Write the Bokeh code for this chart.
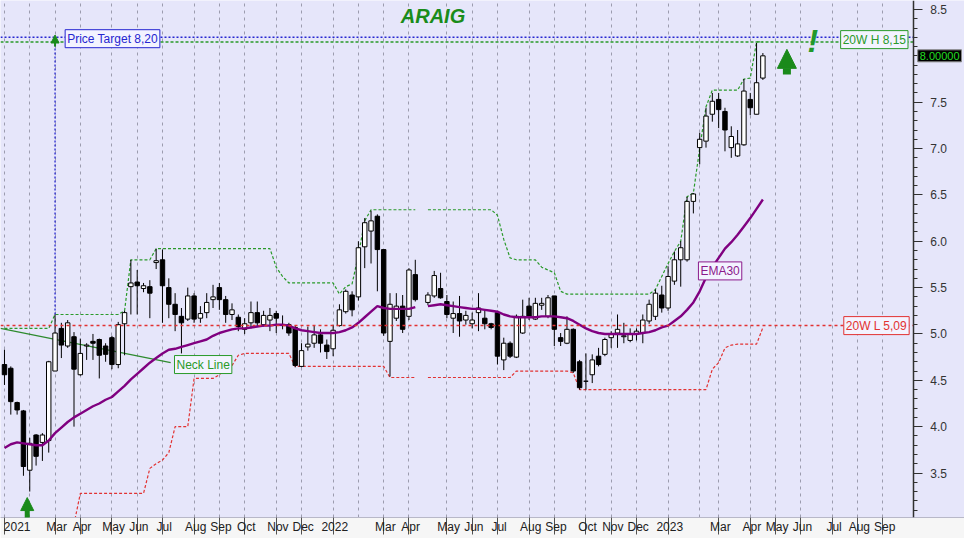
import math
from bokeh.plotting import figure
from bokeh.models import (Range1d, FixedTicker, PrintfTickFormatter, Label, Arrow,
                          NormalHead, ColumnDataSource)
from bokeh.embed import file_html
from bokeh.resources import INLINE

# ---------------- data (weekly bars, one slot per week; slot 66 has no bar) ----------------
opens = [4.67, 4.63, 4.26, 4.17, 3.53, 3.91, 3.83, 3.85, 4.60, 5.06,
         4.87, 4.97, 4.56, 4.87, 4.92, 4.94, 4.87, 4.96, 4.67, 5.11,
         5.51, 5.56, 5.49, 5.51, 5.77, 5.80, 5.50, 5.32, 5.19, 5.16,
         5.41, 5.17, 5.23, 5.37, 5.50, 5.37, 5.21, 5.18, 5.05, 5.12,
         5.23, 5.10, 5.15, 5.22, 5.09, 5.10, 5.07, 4.65, 4.86, 4.90,
         4.99, 4.88, 4.84, 5.09, 5.24, 5.42, 5.40, 5.94, 6.11, 6.27,
         5.91, 4.92, 5.17, 5.30, 5.19, 5.64, None, 5.34, 5.41, 5.49,
         5.35, 5.17, 5.22, 5.15, 5.11, 5.23, 5.17, 5.11, 5.23, 4.72,
         4.90, 4.75, 5.01, 5.30, 5.16, 5.31, 5.19, 5.41, 4.96, 4.90,
         5.05, 4.70, 4.49, 4.56, 4.76, 4.78, 4.96, 5.01, 4.97, 4.93,
         5.00, 5.01, 5.14, 5.19, 5.42, 5.28, 5.57, 5.80, 5.80, 6.43,
         7.01, 7.08, 7.37, 7.53, 7.40, 7.01, 6.92, 7.04, 7.53, 7.37,
         7.76]
highs = [4.83, 4.65, 4.27, 4.18, 3.88, 3.92, 3.93, 4.71, 5.21, 5.12,
         5.15, 5.02, 4.95, 4.90, 5.00, 4.95, 4.90, 4.98, 5.13, 5.25,
         5.80, 5.69, 5.55, 5.58, 5.92, 5.91, 5.60, 5.44, 5.28, 5.50,
         5.44, 5.30, 5.44, 5.53, 5.55, 5.41, 5.33, 5.21, 5.17, 5.35,
         5.35, 5.25, 5.28, 5.25, 5.20, 5.12, 5.09, 4.90, 5.08, 5.09,
         5.05, 4.94, 5.10, 5.32, 5.48, 5.46, 6.00, 6.25, 6.33, 6.29,
         5.91, 5.44, 5.44, 5.42, 5.71, 5.80, None, 5.45, 5.68, 5.66,
         5.42, 5.35, 5.41, 5.25, 5.23, 5.44, 5.26, 5.12, 5.25, 4.96,
         4.92, 5.21, 5.37, 5.39, 5.39, 5.39, 5.42, 5.41, 5.01, 5.19,
         5.06, 4.72, 4.79, 4.78, 4.85, 4.96, 5.03, 5.21, 5.12, 5.06,
         5.06, 5.21, 5.37, 5.48, 5.52, 5.73, 5.89, 6.00, 6.48, 6.52,
         7.17, 7.44, 7.60, 7.60, 7.44, 7.24, 7.20, 7.75, 7.60, 8.14,
         8.03]
lows = [4.45, 4.13, 4.13, 3.47, 3.30, 3.58, 3.63, 3.72, 4.60, 4.74,
        4.85, 4.00, 4.55, 4.72, 4.72, 4.52, 4.70, 4.62, 4.63, 4.77,
        5.21, 5.21, 5.45, 5.17, 5.70, 5.12, 5.17, 5.03, 4.79, 5.14,
        5.12, 5.12, 5.17, 5.28, 5.26, 5.12, 5.15, 5.03, 5.00, 5.06,
        5.08, 5.08, 5.03, 5.01, 5.05, 4.98, 4.64, 4.64, 4.82, 4.85,
        4.80, 4.73, 4.76, 5.08, 5.22, 5.19, 5.36, 5.71, 5.76, 5.46,
        4.98, 4.54, 5.14, 5.01, 5.15, 5.35, None, 5.31, 5.39, 5.38,
        5.17, 5.01, 4.97, 5.10, 5.06, 5.03, 5.05, 5.05, 4.67, 4.61,
        4.74, 4.74, 5.00, 5.15, 5.15, 5.26, 5.17, 4.87, 4.87, 4.89,
        4.58, 4.40, 4.40, 4.47, 4.65, 4.76, 4.85, 4.85, 4.90, 4.91,
        4.93, 4.90, 5.11, 5.15, 5.23, 5.25, 5.53, 5.51, 5.78, 6.30,
        6.83, 7.01, 7.29, 7.22, 6.97, 6.90, 6.91, 7.03, 7.36, 7.37,
        7.74]
closes = [4.56, 4.27, 4.18, 3.57, 3.82, 3.68, 3.91, 4.70, 5.01, 4.88,
          5.12, 4.62, 4.79, 4.88, 4.90, 4.77, 4.78, 4.67, 5.10, 5.23,
          5.55, 5.52, 5.52, 5.44, 5.79, 5.52, 5.32, 5.21, 5.12, 5.41,
          5.16, 5.22, 5.34, 5.40, 5.37, 5.21, 5.26, 5.08, 5.11, 5.23,
          5.12, 5.20, 5.20, 5.17, 5.10, 5.01, 4.66, 4.82, 4.89, 4.99,
          4.90, 4.81, 5.04, 5.26, 5.46, 5.26, 5.93, 6.20, 6.22, 5.91,
          5.01, 5.32, 5.30, 5.05, 5.69, 5.37, None, 5.42, 5.63, 5.39,
          5.21, 5.22, 5.14, 5.20, 5.15, 5.28, 5.11, 5.07, 4.76, 4.90,
          4.76, 5.19, 5.19, 5.19, 5.33, 5.33, 5.39, 5.05, 4.92, 5.05,
          4.60, 4.42, 4.49, 4.72, 4.67, 4.94, 5.00, 5.05, 4.98, 5.00,
          5.03, 5.15, 5.32, 5.44, 5.28, 5.62, 5.80, 5.93, 6.43, 6.51,
          7.10, 7.35, 7.51, 7.42, 7.20, 7.13, 7.05, 7.62, 7.44, 7.71,
          8.00]
ema30 = [3.77, 3.81, 3.83, 3.82, 3.81, 3.80, 3.80, 3.85, 3.93, 3.99,
         4.05, 4.10, 4.14, 4.18, 4.22, 4.25, 4.29, 4.32, 4.38, 4.44,
         4.51, 4.57, 4.63, 4.69, 4.74, 4.79, 4.83, 4.84, 4.86, 4.88,
         4.90, 4.92, 4.94, 4.98, 5.01, 5.03, 5.05, 5.06, 5.06, 5.07,
         5.08, 5.09, 5.09, 5.10, 5.10, 5.09, 5.06, 5.04, 5.03, 5.02,
         5.01, 5.01, 5.01, 5.02, 5.04, 5.07, 5.12, 5.18, 5.24, 5.30,
         5.28, 5.27, 5.27, 5.27, 5.27, 5.29, None, 5.30, 5.31, 5.32,
         5.31, 5.30, 5.29, 5.28, 5.27, 5.27, 5.26, 5.25, 5.24, 5.21,
         5.19, 5.18, 5.18, 5.18, 5.18, 5.19, 5.19, 5.19, 5.18, 5.17,
         5.14, 5.10, 5.06, 5.03, 5.01, 5.00, 5.00, 5.00, 5.00, 5.00,
         5.00, 5.01, 5.02, 5.04, 5.07, 5.09, 5.14, 5.19, 5.26, 5.34,
         5.46, 5.61, 5.72, 5.82, 5.92, 5.99, 6.07, 6.16, 6.25, 6.35,
         6.45]
high20 = [5.06, 5.06, 5.06, 5.06, 5.06, 5.06, 5.06, 5.06, 5.21, 5.21,
          5.21, 5.21, 5.21, 5.21, 5.21, 5.21, 5.21, 5.21, 5.21, 5.25,
          5.80, 5.80, 5.80, 5.80, 5.92, 5.92, 5.92, 5.92, 5.92, 5.92,
          5.92, 5.92, 5.92, 5.92, 5.92, 5.92, 5.92, 5.92, 5.92, 5.92,
          5.92, 5.92, 5.92, 5.72, 5.62, 5.55, 5.55, 5.55, 5.55, 5.55,
          5.55, 5.55, 5.55, 5.43, 5.51, 5.54, 5.85, 6.22, 6.34, 6.34,
          6.34, 6.34, 6.34, 6.34, 6.34, 6.34, None, 6.34, 6.34, 6.34,
          6.34, 6.34, 6.34, 6.34, 6.34, 6.34, 6.34, 6.34, 6.28, 6.02,
          5.82, 5.80, 5.80, 5.80, 5.80, 5.72, 5.69, 5.66, 5.46, 5.43,
          5.43, 5.43, 5.43, 5.43, 5.43, 5.43, 5.43, 5.43, 5.43, 5.43,
          5.43, 5.43, 5.43, 5.48, 5.62, 5.76, 5.89, 6.00, 6.48, 6.52,
          7.00, 7.45, 7.63, 7.63, 7.63, 7.63, 7.63, 7.75, 7.76, 8.15,
          8.15]
low20 = [None, None, None, None, None, None, None, None, None, None,
         None, 2.95, 3.28, 3.28, 3.28, 3.28, 3.28, 3.28, 3.28, 3.28,
         3.28, 3.28, 3.28, 3.55, 3.60, 3.64, 3.72, 4.00, 4.00, 4.00,
         4.52, 4.52, 4.52, 4.52, 4.56, 4.62, 4.66, 4.77, 4.79, 4.79,
         4.79, 4.79, 4.79, 4.79, 4.79, 4.79, 4.65, 4.65, 4.65, 4.65,
         4.65, 4.65, 4.65, 4.65, 4.65, 4.65, 4.65, 4.65, 4.65, 4.65,
         4.65, 4.53, 4.53, 4.53, 4.53, 4.53, None, 4.53, 4.53, 4.53,
         4.53, 4.53, 4.53, 4.53, 4.53, 4.53, 4.53, 4.53, 4.53, 4.53,
         4.53, 4.60, 4.60, 4.60, 4.60, 4.60, 4.60, 4.60, 4.60, 4.60,
         4.58, 4.40, 4.40, 4.40, 4.40, 4.40, 4.40, 4.40, 4.40, 4.40,
         4.40, 4.40, 4.40, 4.40, 4.40, 4.40, 4.40, 4.40, 4.40, 4.40,
         4.40, 4.40, 4.62, 4.69, 4.85, 4.88, 4.89, 4.89, 4.89, 4.89,
         5.07]

# month starts (week slots) for grid lines, and labelled months
grid_weeks = [0, 4, 8, 12, 17, 21, 25, 30, 34, 38, 43, 47, 52, 56, 60, 64, 70, 74, 78,
              83, 87, 92, 96, 100, 105, 110, 113, 118, 122, 126, 131, 135, 139]
label_weeks = [0, 8, 12, 17, 21, 25, 30, 34, 38, 43, 47, 52, 60, 64, 70, 74, 78, 83, 87,
               92, 96, 100, 105, 113, 118, 122, 126, 131, 135, 139]
label_texts = ["2021", "Mar", "Apr", "May", "Jun", "Jul", "Aug", "Sep", "Oct", "Nov", "Dec",
               "2022", "Mar", "Apr", "May", "Jun", "Jul", "Aug", "Sep", "Oct", "Nov", "Dec",
               "2023", "Mar", "Apr", "May", "Jun", "Jul", "Aug", "Sep"]
y_ticks = [3.5, 4.0, 4.5, 5.0, 5.5, 6.0, 6.5, 7.0, 7.5, 8.0, 8.5]

price_target = 8.20
high_20w = 8.15
low_20w = 5.09
last_price = 8.00
breakout_week = 8
breakout_level = 5.21
neck_x = [-0.63, 26.3]
neck_y = [5.06, 4.69]

# ---------------- layout constants ----------------
X0, X1 = -0.63, 151.9      # visible week range (frame spans whole width)
AXIS_AT = 143.8            # price axis drawn at this week position
Y0, Y1 = 3.02, 8.597

N = len(closes)
weeks = list(range(N))
nan = float("nan")
def nz(a):
    return [nan if v is None else v for v in a]

idx = [i for i in weeks if closes[i] is not None]
src = ColumnDataSource(dict(
    x=idx,
    h=[highs[i] for i in idx],
    l=[lows[i] for i in idx],
    top=[max(opens[i], closes[i]) for i in idx],
    bot=[min(opens[i], closes[i]) for i in idx],
    fill=["white" if closes[i] >= opens[i] else "black" for i in idx],
))

LAV = "#e6e6fa"
GREEN = "#2a9a2a"
DGREEN = "#1a8a1a"
RED = "#e23232"
BLUE = "#2626d0"
PURPLE = "#800080"
FONT = "Liberation Sans"

p = figure(width=964, height=538, x_range=Range1d(X0, X1), y_range=Range1d(Y0, Y1),
           output_backend="svg", toolbar_location=None, y_axis_location="right",
           min_border_left=0, min_border_top=0, min_border_right=0, min_border_bottom=21)
p.background_fill_color = LAV
p.border_fill_color = "#f6f6f6"
p.outline_line_color = None

# grid
p.ygrid.visible = False
p.xgrid.ticker = FixedTicker(ticks=grid_weeks)
p.xgrid.grid_line_color = "#9c9cae"
p.xgrid.grid_line_dash = "3 4"
p.xgrid.grid_line_width = 1

# x axis
xa = p.xaxis[0]
xa.ticker = FixedTicker(ticks=label_weeks)
xa.major_label_overrides = {w: "\u00a0" + t for w, t in zip(label_weeks, label_texts)}
xa.major_tick_out = 17
xa.major_tick_in = 0
xa.major_tick_line_color = "#505050"
xa.minor_tick_line_color = None
xa.major_label_standoff = -15
xa.major_label_text_align = "left"
xa.major_label_text_font_size = "12px"
xa.major_label_text_font = "Liberation Sans Narrow, Liberation Sans, sans-serif"
xa.major_label_text_color = "#202020"
xa.axis_line_color = "#b8b8c8"

# y axis (right, drawn at a fixed week position so the panel is part of the frame)
ya = p.yaxis[0]
ya.fixed_location = AXIS_AT
ya.ticker = FixedTicker(ticks=y_ticks, minor_ticks=[round(3.0 + 0.1 * i, 1) for i in range(57)])
ya.formatter = PrintfTickFormatter(format="%.1f")
ya.major_tick_out = 9
ya.major_tick_in = 0
ya.minor_tick_out = 4
ya.minor_tick_in = 0
ya.axis_line_color = "#303030"
ya.axis_line_width = 1.5
ya.major_tick_line_color = "#303030"
ya.minor_tick_line_color = "#303030"
ya.major_label_standoff = 8
ya.major_label_text_font_size = "12px"
ya.major_label_text_font = FONT
ya.major_label_text_color = "#333333"

# indicator lines
p.line(weeks, nz(high20), line_color=GREEN, line_dash="3 2", line_width=1.2)
p.line(weeks, nz(low20), line_color=RED, line_dash="3 2", line_width=1.2)
p.line(neck_x, neck_y, line_color="#2e8b2e", line_width=1.2)
p.segment(x0=[breakout_week], y0=[breakout_level], x1=[breakout_week], y1=[price_target],
          line_color=BLUE, line_dash="2 2", line_width=1.3)

# candles
p.segment(x0="x", y0="l", x1="x", y1="h", source=src, line_color="black", line_width=1)
p.vbar(x="x", width=0.7, top="top", bottom="bot", source=src,
       fill_color="fill", line_color="black", line_width=1)

# EMA
p.line(weeks, nz(ema30), line_color=PURPLE, line_width=2.4)

# horizontal levels (up to the price axis)
p.segment(x0=[X0], y0=[price_target], x1=[AXIS_AT], y1=[price_target],
          line_color=BLUE, line_dash="2 2", line_width=1.5)
p.segment(x0=[X0], y0=[high_20w], x1=[AXIS_AT], y1=[high_20w],
          line_color=GREEN, line_dash="3 2", line_width=1.5)
p.segment(x0=[X0], y0=[low_20w], x1=[AXIS_AT], y1=[low_20w],
          line_color=RED, line_dash="3 3", line_width=1.5)

# arrows
p.add_layout(Arrow(end=NormalHead(size=13, fill_color=DGREEN, line_color=DGREEN),
                   x_start=3.6, y_start=2.99, x_end=3.6, y_end=3.235,
                   line_color=DGREEN, line_width=5))
p.add_layout(Arrow(end=NormalHead(size=19, fill_color=DGREEN, line_color=DGREEN),
                   x_start=123.8, y_start=7.80, x_end=123.8, y_end=8.07,
                   line_color=DGREEN, line_width=8))
p.add_layout(Arrow(end=NormalHead(size=8, fill_color=DGREEN, line_color=DGREEN),
                   x_start=breakout_week, y_start=8.10, x_end=breakout_week, y_end=8.225,
                   line_color=DGREEN, line_width=2))

# texts
p.add_layout(Label(x=67.8, y=8.43, text="ARAIG", text_align="center", text_baseline="middle",
                   text_font_size="20px", text_font_style="bold italic", text_color="#1a8c1a",
                   text_font=FONT))
p.add_layout(Label(x=127.9, y=8.16, text="!", text_align="center", text_baseline="alphabetic",
                   text_font_size="32px", text_font_style="bold italic", text_color="#22992a",
                   text_font=FONT))

def boxed(x, y, text, color):
    return Label(x=x, y=y, text=text, text_align="left", text_baseline="middle",
                 text_font_size="12px", text_font=FONT, text_color=color,
                 background_fill_color="#f3f3ff", border_line_color=color,
                 border_line_width=1, padding=2)

p.add_layout(boxed(9.6, 8.185, "Price Target 8,20", BLUE))
p.add_layout(boxed(132.3, 8.175, "20W H 8,15", GREEN))
p.add_layout(boxed(132.8, low_20w, "20W L 5,09", RED))
p.add_layout(boxed(109.8, 5.68, "EMA30", "#8b1a8b"))
p.add_layout(boxed(26.9, 4.67, "Neck Line", GREEN))
p.add_layout(Label(x=144.5, y=last_price, text="8.00000", text_align="left", text_baseline="middle",
                   text_font_size="11px", text_font=FONT, text_color="#22dd22",
                   background_fill_color="black", border_line_color="#888888", padding=2))

open("out.html", "w").write(file_html(p, INLINE))
